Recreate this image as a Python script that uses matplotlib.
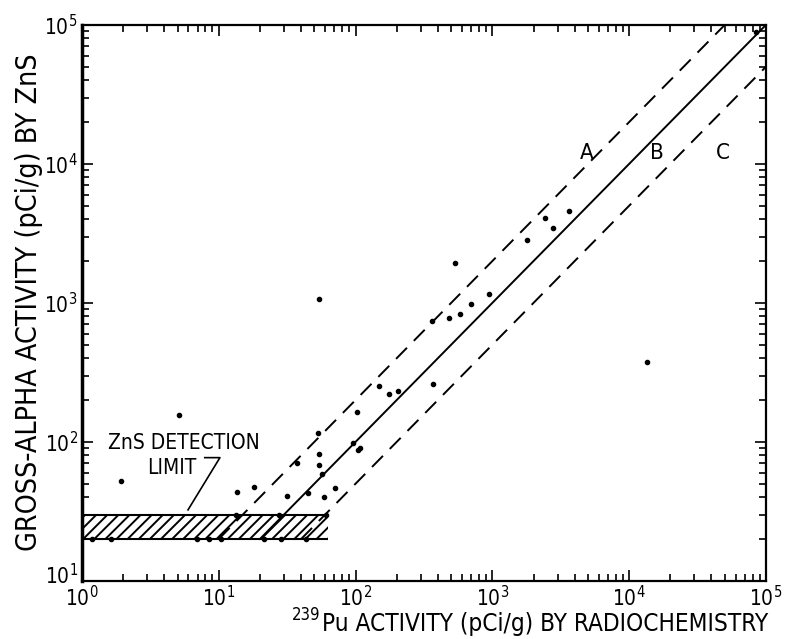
import numpy as np
import matplotlib
matplotlib.use("Agg")
import matplotlib.pyplot as plt
import matplotlib.transforms as mtransforms
from matplotlib.ticker import LogLocator

plt.rcParams['font.family'] = ['DejaVu Sans']
plt.rcParams['font.stretch'] = 'condensed'
plt.rcParams['mathtext.fontset'] = 'custom'
plt.rcParams['mathtext.rm'] = 'DejaVu Sans:stretch=condensed'
plt.rcParams['hatch.linewidth'] = 1.4

# Pu activity by radiochemistry vs gross-alpha by ZnS (pCi/g)
x_rad = [1.18, 1.63, 6.9, 8.5, 10.4, 21.4, 28.5, 43.4,
         13.4, 27.6, 60.8,
         1.93, 5.1, 13.6, 18.1, 31.5, 44.9, 58.7, 70.7, 37.3, 54.0, 54.0, 53.1, 56.8,
         95.7, 104, 108, 102, 148, 175, 204, 368, 362, 482, 580, 698, 945, 533, 54,
         1790, 2425, 2775, 3630, 13500, 85000]
y_zns = [20, 20, 20, 20, 20, 20, 20, 20,
         30, 30, 30,
         52, 156, 43.6, 47.4, 40.8, 42.9, 40.1, 46.6, 70.4, 81.7, 68.1, 116, 58.7,
         98, 87, 91, 164, 252, 220, 232, 260, 738, 775, 828, 977, 1153, 1925, 1062,
         2818, 4053, 3436, 4550, 374, 89000]

# detection limit band
band_x = [1, 63]
band_lo = 20
band_hi = 30

# reference lines y = k*x
line_k = {'A': 2.0, 'B': 1.0, 'C': 0.5}
label_x = {'A': 4900, 'B': 16000, 'C': 48500}
label_y = 11900

fig = plt.figure(figsize=(7.88, 6.39), dpi=100)
ax = fig.add_axes([0.104, 0.091, 0.868, 0.870])
ax.set_xscale('log')
ax.set_yscale('log')
ax.set_xlim(1, 1e5)
ax.set_ylim(10, 1e5)

ax.fill_between(band_x, band_lo, band_hi, facecolor='white', edgecolor='black',
                hatch='///', linewidth=0)
ax.hlines([band_lo, band_hi], band_x[0], band_x[1], color='black', lw=1.5)

for name, k in line_k.items():
    xs = np.array([band_lo / k, 1e5 / max(k, 1)])
    if name == 'B':
        ax.plot(xs, k * xs, color='black', lw=1.4)
    else:
        ax.plot(xs, k * xs, color='black', lw=1.4, dashes=(8, 5))
    ax.text(label_x[name], label_y, name, fontsize=16, ha='center', va='center')

ax.plot(x_rad, y_zns, 'o', color='black', ms=3)

ax.text(5.57, 98, 'ZnS DETECTION', fontsize=15, ha='center', va='center')
ax.text(4.55, 65, 'LIMIT', fontsize=15, ha='center', va='center')
ax.plot([7.9, 10.2, 5.96], [77, 77, 32.4], color='black', lw=1.2)

ax.xaxis.set_major_locator(LogLocator(base=10, numticks=10))
ax.yaxis.set_major_locator(LogLocator(base=10, numticks=10))
ax.xaxis.set_minor_locator(LogLocator(base=10, subs=np.arange(2, 10), numticks=20))
ax.yaxis.set_minor_locator(LogLocator(base=10, subs=np.arange(2, 10), numticks=20))
ax.tick_params(which='both', direction='in', top=True, right=True, width=1.2)
ax.tick_params(which='major', length=8, labelsize=15, pad=3)
ax.tick_params(which='minor', length=5)
for s in ax.spines.values():
    s.set_linewidth(1.6)
ax.spines['left'].set_linewidth(2.5)

# lift the bottom y tick label a little so it clears the 10^0 label
fig.canvas.draw()
lift = mtransforms.ScaledTranslation(0, 5 / 72, fig.dpi_scale_trans)
for t in ax.yaxis.get_majorticklabels():
    if abs(t.get_position()[1] - 10) < 1e-6:
        t.set_transform(t.get_transform() + lift)

fig.text(0.037, 0.527, 'GROSS-ALPHA ACTIVITY (pCi/g) BY ZnS', rotation=90,
         fontsize=20.5, ha='center', va='center')
fig.text(0.388, 0.038, '239', fontsize=12, ha='center', va='center')
fig.text(0.692, 0.024, 'Pu ACTIVITY (pCi/g) BY RADIOCHEMISTRY',
         fontsize=17.5, ha='center', va='center')

fig.savefig('out.png', dpi=100)
